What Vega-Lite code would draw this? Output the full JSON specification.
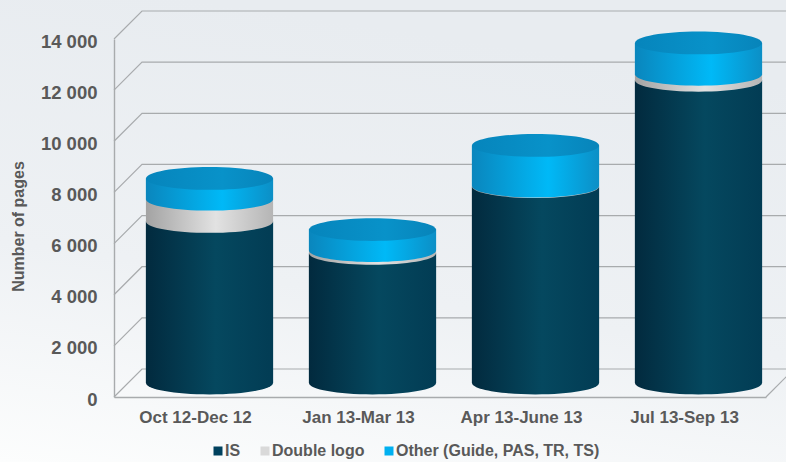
{
"$schema":"https://vega.github.io/schema/vega-lite/v6.json",
"width":652,"height":358,
"autosize":{"type":"none"},
"padding":{"left":114,"top":39,"right":20,"bottom":65},
"background":"#eef1f4",
"config":{"view":{"stroke":null},"font":"Liberation Sans",
 "axisY":{"values":[0,2000,4000,6000,8000,10000,12000,14000],"labelExpr":"replace(format(datum.value, ','), ',', ' ')","labelFont":"Liberation Sans","labelFontWeight":"bold","labelFontSize":18.5,"labelColor":"#595959","labelPadding":17,"labelOffset":2,"ticks":false,"grid":false,"domainColor":"#a8abad","domainWidth":1.4,"titleFont":"Liberation Sans","titleFontWeight":"bold","titleFontSize":16,"titleColor":"#595959","titleX":-96,"titleY":187,"titleAlign":"center","titleBaseline":"middle"}},
"datasets":{
"pages":[
{"period":"Oct 12-Dec 12","series":"IS","order":1,"pages":6320},
{"period":"Oct 12-Dec 12","series":"Double logo","order":2,"pages":870},
{"period":"Oct 12-Dec 12","series":"Other (Guide, PAS, TR, TS)","order":3,"pages":810},
{"period":"Jan 13-Mar 13","series":"IS","order":1,"pages":5070},
{"period":"Jan 13-Mar 13","series":"Double logo","order":2,"pages":110},
{"period":"Jan 13-Mar 13","series":"Other (Guide, PAS, TR, TS)","order":3,"pages":820},
{"period":"Apr 13-June 13","series":"IS","order":1,"pages":7680},
{"period":"Apr 13-June 13","series":"Double logo","order":2,"pages":20},
{"period":"Apr 13-June 13","series":"Other (Guide, PAS, TR, TS)","order":3,"pages":1590},
{"period":"Jul 13-Sep 13","series":"IS","order":1,"pages":11835},
{"period":"Jul 13-Sep 13","series":"Double logo","order":2,"pages":235},
{"period":"Jul 13-Sep 13","series":"Other (Guide, PAS, TR, TS)","order":3,"pages":1230}
],
"wall":[
{"line":"0","along":0,"height":0},{"line":"0","along":28,"height":1095},{"line":"0","along":680,"height":1095},
{"line":"2000","along":0,"height":2000},{"line":"2000","along":28,"height":3095},{"line":"2000","along":680,"height":3095},
{"line":"4000","along":0,"height":4000},{"line":"4000","along":28,"height":5095},{"line":"4000","along":680,"height":5095},
{"line":"6000","along":0,"height":6000},{"line":"6000","along":28,"height":7095},{"line":"6000","along":680,"height":7095},
{"line":"8000","along":0,"height":8000},{"line":"8000","along":28,"height":9095},{"line":"8000","along":680,"height":9095},
{"line":"10000","along":0,"height":10000},{"line":"10000","along":28,"height":11095},{"line":"10000","along":680,"height":11095},
{"line":"12000","along":0,"height":12000},{"line":"12000","along":28,"height":13095},{"line":"12000","along":680,"height":13095},
{"line":"14000","along":0,"height":14000},{"line":"14000","along":28,"height":15095},{"line":"14000","along":680,"height":15095},
{"line":"end","along":652,"height":0},{"line":"end","along":680,"height":1095}
]
},
"resolve":{"scale":{"x":"independent"}},
"layer":[
{"layer":[
 {"data":{"values":[{}]},
  "mark":{"type":"rect","clip":false,"fill":{"gradient":"linear","x1":0.25,"y1":0,"x2":0,"y2":1,"stops":[{"offset":0,"color":"#e8ecf0"},{"offset":0.55,"color":"#eef1f4"},{"offset":1,"color":"#fcfdfd"}]}},
  "encoding":{
   "x":{"datum":-114,"type":"quantitative","scale":{"domain":[0,652],"nice":false,"zero":false},"axis":null},
   "x2":{"datum":672},
   "y":{"datum":15526,"type":"quantitative","scale":{"domain":[0,14000],"nice":false},"axis":{"zindex":1,"title":"Number of pages"}},
   "y2":{"datum":-2543}
  }},
 {"data":{"name":"wall"},
  "mark":{"type":"line","color":"#a8abad","strokeWidth":1.2,"clip":false},
  "encoding":{
   "x":{"field":"along","type":"quantitative","scale":{"domain":[0,652],"nice":false,"zero":false},"axis":null},
   "y":{"field":"height","type":"quantitative","scale":{"domain":[0,14000],"nice":false},"axis":{"zindex":1,"title":"Number of pages"}},
   "detail":{"field":"line"},
   "order":{"field":"along"}
  }}
]},
{"data":{"name":"pages"},
 "transform":[{"stack":"pages","groupby":["period"],"sort":[{"field":"order","order":"ascending"}],"as":["y0","y1"]}],
 "encoding":{
  "x":{"field":"period","type":"nominal","scale":{"domain":["Oct 12-Dec 12","Jan 13-Mar 13","Apr 13-June 13","Jul 13-Sep 13"],"paddingInner":0.22,"paddingOuter":0.11},
   "axis":{"zindex":1,"title":null,"labelAngle":0,"labelFont":"Liberation Sans","labelFontWeight":"bold","labelFontSize":17,"labelColor":"#595959","labelPadding":12,"ticks":false,"domainColor":"#a8abad","domainWidth":1.6,"grid":false}}
 },
 "layer":[
  {"mark":{"type":"bar","xOffset":14,"yOffset":-14,"y2Offset":-14},
   "encoding":{
    "y":{"field":"y0","type":"quantitative","scale":{"domain":[0,14000],"nice":false},"axis":{"zindex":1,"title":"Number of pages"}},
    "y2":{"field":"y1"},
    "color":{"field":"series","type":"nominal","scale":{"domain":["IS","Double logo","Other (Guide, PAS, TR, TS)"],"range":["#00415e","#d9d9d9","#00b0f0"]},
     "legend":{"title":null,"orient":"none","legendX":96,"legendY":404,"direction":"horizontal","symbolType":"square","symbolSize":81,"symbolStrokeWidth":0,"labelFont":"Liberation Sans","labelFontWeight":"bold","labelFontSize":16,"labelColor":"#595959","labelOffset":-1,"labelLimit":0,"columnPadding":16,"padding":0}}
   }},
  {"transform":[{"filter":"datum.series==='IS'"}],
   "mark":{"type":"point","filled":true,"opacity":1,"shape":"M-1,0A1,0.18 0 1,1 1,0A1,0.18 0 1,1 -1,0Z","size":16129,"xOffset":14,"yOffset":-14,"strokeWidth":0,
    "fill":{"gradient":"linear","x1":0,"y1":0,"x2":1,"y2":0,"stops":[{"offset":0,"color":"#022a3e"},{"offset":0.55,"color":"#05485f"},{"offset":1,"color":"#023c54"}]}},
   "encoding":{"y":{"field":"y0","type":"quantitative","scale":{"domain":[0,14000],"nice":false},"axis":{"zindex":1,"title":"Number of pages"}}}},
  {"transform":[{"filter":"datum.series==='IS'"}],
   "mark":{"type":"bar","xOffset":14,"yOffset":-14,"y2Offset":-14,
    "fill":{"gradient":"linear","x1":0,"y1":0,"x2":1,"y2":0,"stops":[{"offset":0,"color":"#022a3e"},{"offset":0.55,"color":"#05485f"},{"offset":1,"color":"#023c54"}]}},
   "encoding":{"y":{"field":"y0","type":"quantitative","scale":{"domain":[0,14000],"nice":false},"axis":{"zindex":1,"title":"Number of pages"}},"y2":{"field":"y1"}}},
  {"transform":[{"filter":"datum.series==='Double logo'"}],
   "mark":{"type":"point","filled":true,"opacity":1,"shape":"M-1,0A1,0.18 0 1,1 1,0A1,0.18 0 1,1 -1,0Z","size":16129,"xOffset":14,"yOffset":-14,"strokeWidth":0,
    "fill":{"gradient":"linear","x1":0,"y1":0,"x2":1,"y2":0,"stops":[{"offset":0,"color":"#a3a3a3"},{"offset":0.55,"color":"#e2e2e2"},{"offset":1,"color":"#b5b5b5"}]}},
   "encoding":{"y":{"field":"y0","type":"quantitative","scale":{"domain":[0,14000],"nice":false},"axis":{"zindex":1,"title":"Number of pages"}}}},
  {"transform":[{"filter":"datum.series==='Double logo'"}],
   "mark":{"type":"bar","xOffset":14,"yOffset":-14,"y2Offset":-14,
    "fill":{"gradient":"linear","x1":0,"y1":0,"x2":1,"y2":0,"stops":[{"offset":0,"color":"#a3a3a3"},{"offset":0.55,"color":"#e2e2e2"},{"offset":1,"color":"#b5b5b5"}]}},
   "encoding":{"y":{"field":"y0","type":"quantitative","scale":{"domain":[0,14000],"nice":false},"axis":{"zindex":1,"title":"Number of pages"}},"y2":{"field":"y1"}}},
  {"transform":[{"filter":"datum.order===3"}],
   "mark":{"type":"point","filled":true,"opacity":1,"shape":"M-1,0A1,0.18 0 1,1 1,0A1,0.18 0 1,1 -1,0Z","size":16129,"xOffset":14,"yOffset":-14,"strokeWidth":0,
    "fill":{"gradient":"linear","x1":0,"y1":0,"x2":1,"y2":0,"stops":[{"offset":0,"color":"#0a86bd"},{"offset":0.6,"color":"#00b9f7"},{"offset":1,"color":"#0c8fc6"}]}},
   "encoding":{"y":{"field":"y0","type":"quantitative","scale":{"domain":[0,14000],"nice":false},"axis":{"zindex":1,"title":"Number of pages"}}}},
  {"transform":[{"filter":"datum.order===3"}],
   "mark":{"type":"bar","xOffset":14,"yOffset":-14,"y2Offset":-14,
    "fill":{"gradient":"linear","x1":0,"y1":0,"x2":1,"y2":0,"stops":[{"offset":0,"color":"#0a86bd"},{"offset":0.6,"color":"#00b9f7"},{"offset":1,"color":"#0c8fc6"}]}},
   "encoding":{"y":{"field":"y0","type":"quantitative","scale":{"domain":[0,14000],"nice":false},"axis":{"zindex":1,"title":"Number of pages"}},"y2":{"field":"y1"}}},
  {"transform":[{"filter":"datum.order===3"}],
   "mark":{"type":"point","filled":true,"opacity":1,"shape":"M-1,0A1,0.18 0 1,1 1,0A1,0.18 0 1,1 -1,0Z","size":16129,"xOffset":14,"yOffset":-14,"strokeWidth":0,
    "fill":{"gradient":"linear","x1":0,"y1":0,"x2":1,"y2":0,"stops":[{"offset":0,"color":"#0685bc"},{"offset":0.6,"color":"#0892c9"},{"offset":1,"color":"#0784ba"}]}},
   "encoding":{"y":{"field":"y1","type":"quantitative","scale":{"domain":[0,14000],"nice":false},"axis":{"zindex":1,"title":"Number of pages"}}}}
 ]}
]
}
